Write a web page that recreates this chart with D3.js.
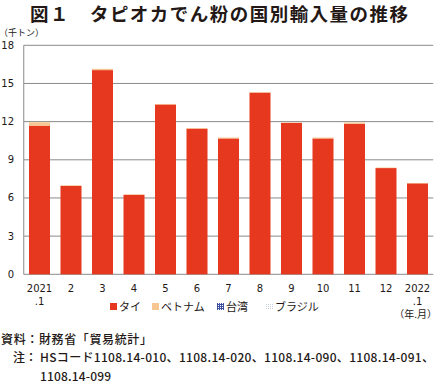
<!DOCTYPE html>
<html>
<head>
<meta charset="utf-8">
<script src="https://cdn.jsdelivr.net/npm/d3@7"></script>
<style>
  body { margin: 0; background: #fff; }
  svg { display: block; font-family: "Noto Sans CJK JP", sans-serif; }
</style>
</head>
<body>
<svg id="chart" width="438" height="385"></svg>
<script>
// months (x categories), two text rows each
const months = [['2021', '.1'], ['2'], ['3'], ['4'], ['5'], ['6'], ['7'], ['8'], ['9'], ['10'], ['11'], ['12'], ['2022', '.1']]
const countries = ['タイ', 'ベトナム', '台湾', 'ブラジル']

// values in thousand tonnes
const thai = [11.68, 6.95, 16.05, 6.25, 13.35, 11.45, 10.68, 14.28, 11.9, 10.68, 11.83, 8.35, 7.15]
const vietnam = [0.27, 0.04, 0.1, 0.04, 0.04, 0.04, 0.07, 0.04, 0.03, 0.07, 0.1, 0.04, 0.03]
const taiwan = [0, 0, 0, 0, 0, 0, 0, 0, 0, 0, 0, 0, 0]
const brazil = [0, 0, 0, 0, 0, 0, 0, 0, 0, 0, 0, 0, 0]

const yTicks = [0, 3, 6, 9, 12, 15, 18]

const svg = d3.select('#chart')

const plot = { left: 23.75, right: 433.25, top: 45.3, bottom: 274.3 }

const x = d3.scaleBand()
    .domain(d3.range(months.length))
    .range([plot.left, plot.right])
    .paddingInner(0.333)
    .paddingOuter(0.1665)

const y = d3.scaleLinear()
    .domain([0, 18])
    .range([plot.bottom, plot.top])

const colors = { 'タイ': '#e5381f', 'ベトナム': '#f8c690', '台湾': '#3d4fa0', 'ブラジル': '#c9d2d8' }

// title
svg.append('text')
    .attr('x', 30).attr('y', 21)
    .attr('font-size', 18.5).attr('font-weight', 'bold').attr('fill', '#231815')
    .attr('textLength', 378).attr('lengthAdjust', 'spacing')
    .text('図１　タピオカでん粉の国別輸入量の推移')

// unit label
svg.append('text')
    .attr('x', -1).attr('y', 36)
    .attr('font-size', 9).attr('fill', '#231815')
    .text('（千トン）')

// grid
svg.append('g').selectAll('line')
    .data(yTicks)
    .join('line')
    .attr('x1', plot.left).attr('x2', plot.right)
    .attr('y1', d => y(d)).attr('y2', d => y(d))
    .attr('stroke', '#8a8a8a').attr('stroke-width', 1)

svg.append('line')
    .attr('x1', plot.left).attr('x2', plot.left)
    .attr('y1', plot.top).attr('y2', plot.bottom)
    .attr('stroke', '#8a8a8a')

// y tick labels
svg.append('g').selectAll('text')
    .data(yTicks)
    .join('text')
    .attr('x', 14).attr('y', d => y(d) + 3.5)
    .attr('text-anchor', 'end')
    .attr('font-family', '"DejaVu Sans", sans-serif')
    .attr('font-size', 10).attr('fill', '#231815')
    .text(d => d)

// stacked bars
const table = months.map((m, i) => ({ i: i, 'タイ': thai[i], 'ベトナム': vietnam[i], '台湾': taiwan[i], 'ブラジル': brazil[i] }))
const series = d3.stack().keys(countries)(table)

svg.append('g').selectAll('g')
    .data(series)
    .join('g')
    .attr('fill', d => colors[d.key])
    .selectAll('rect')
    .data(d => d)
    .join('rect')
    .attr('x', d => x(d.data.i))
    .attr('width', x.bandwidth())
    .attr('y', d => y(d[1]))
    .attr('height', d => y(d[0]) - y(d[1]))

// x labels
const xl = svg.append('g').selectAll('text')
    .data(months.map((m, i) => ({ m: m, i: i })))
    .join('text')
    .attr('text-anchor', 'middle')
    .attr('font-family', '"DejaVu Sans", sans-serif')
    .attr('font-size', 10).attr('fill', '#231815')
    .attr('x', d => x(d.i) + x.bandwidth() / 2)
    .attr('y', 292)

xl.selectAll('tspan')
    .data(d => d.m.map((t, k) => ({ t: t, k: k, cx: x(d.i) + x.bandwidth() / 2 })))
    .join('tspan')
    .attr('x', d => d.cx)
    .attr('dy', d => d.k === 0 ? 0 : 13)
    .text(d => d.t)

svg.append('text')
    .attr('x', 437).attr('y', 318)
    .attr('text-anchor', 'end')
    .attr('font-size', 10).attr('fill', '#231815')
    .text('（年.月）')

// legend
const defs = svg.append('defs')
const grid = defs.append('pattern')
    .attr('id', 'grid').attr('width', 2).attr('height', 2)
    .attr('patternUnits', 'userSpaceOnUse')
grid.append('rect').attr('width', 2).attr('height', 2).attr('fill', '#fff')
grid.append('path').attr('d', 'M0,0.5H2M0.5,0V2').attr('stroke', colors['台湾']).attr('stroke-width', 1)
const dots = defs.append('pattern')
    .attr('id', 'dots').attr('width', 2).attr('height', 2)
    .attr('patternUnits', 'userSpaceOnUse')
dots.append('rect').attr('width', 2).attr('height', 2).attr('fill', '#fff')
dots.append('rect').attr('width', 1).attr('height', 1).attr('fill', colors['ブラジル'])

const legendX = [110, 152, 217, 266]
const legendFill = ['#e5381f', '#f8c690', 'url(#grid)', 'url(#dots)']
const lg = svg.append('g').selectAll('g')
    .data(countries)
    .join('g')
    .attr('transform', (d, i) => `translate(${legendX[i]},302)`)
lg.append('rect')
    .attr('width', 7).attr('height', 7).attr('y', 1)
    .attr('fill', (d, i) => legendFill[i])
lg.append('text')
    .attr('x', 9).attr('y', 9)
    .attr('font-size', 11).attr('fill', '#231815')
    .text(d => d)

// source and notes
const notes = [
    { x: 1, y: 344, t: '資料：財務省「貿易統計」', w: 151 },
    { x: 13, y: 362, t: '注：', w: null },
    { x: 40, y: 362, t: 'HSコード1108.14-010、1108.14-020、1108.14-090、1108.14-091、', w: 394 },
    { x: 40, y: 381, t: '1108.14-099', w: 71 }
]
svg.append('g').selectAll('text')
    .data(notes)
    .join('text')
    .attr('x', d => d.x).attr('y', d => d.y)
    .attr('font-size', 12).attr('font-weight', 500).attr('fill', '#231815')
    .attr('textLength', d => d.w)
    .attr('lengthAdjust', 'spacing')
    .text(d => d.t)
</script>
</body>
</html>
